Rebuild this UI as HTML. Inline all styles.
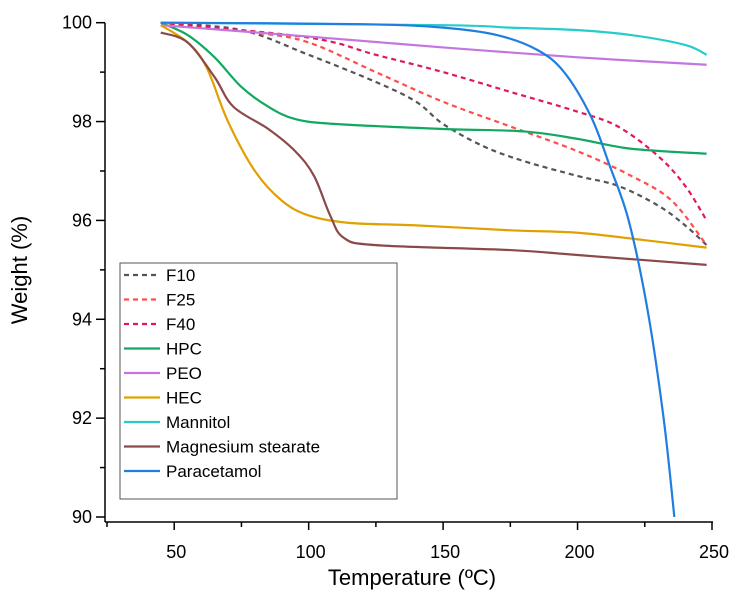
<!DOCTYPE html>
<html><head><meta charset="utf-8"><style>
body{margin:0;background:#fff}
svg text{font-family:"Liberation Sans",Arial,sans-serif}
</style></head><body>
<svg id="c" width="738" height="599"></svg>
<script>
const seriesNames=["F10","F25","F40","HPC","PEO","HEC","Mannitol","Magnesium stearate","Paracetamol"];
const seriesColors=["#555555","#ff4d4d","#e0195a","#12a860","#c277e0","#e0a000","#26cccc","#8b4a4a","#1f7ee0"];
const seriesDash=[true,true,true,false,false,false,false,false,false];
const T_F10=[45,75,100,125,140,150,165,180,200,215,230,240,248];
const W_F10=[100,99.85,99.35,98.8,98.4,97.95,97.5,97.2,96.9,96.7,96.3,95.9,95.5];
const T_F25=[45,80,100,125,150,175,200,220,235,248];
const W_F25=[100,99.8,99.6,99.0,98.4,97.9,97.4,96.9,96.4,95.5];
const T_F40=[45,100,125,150,175,200,215,230,240,248];
const W_F40=[100,99.7,99.35,99.0,98.6,98.2,97.9,97.3,96.7,96.0];
const T_HPC=[45,55,65,75,85,95,110,150,180,200,220,248];
const W_HPC=[100,99.75,99.3,98.7,98.3,98.05,97.95,97.85,97.8,97.65,97.45,97.35];
const T_PEO=[45,100,150,200,248];
const W_PEO=[99.95,99.72,99.5,99.3,99.15];
const T_HEC=[45,55,62,70,80,90,100,115,140,175,200,225,248];
const W_HEC=[99.95,99.6,99.1,98.0,97.0,96.4,96.1,95.95,95.9,95.8,95.75,95.6,95.45];
const T_MAN=[45,150,175,200,220,240,248];
const W_MAN=[100,99.95,99.9,99.85,99.75,99.55,99.35];
const T_MG=[45,55,65,72,85,95,102,108,113,125,175,200,248];
const W_MG=[99.8,99.6,98.9,98.3,97.85,97.4,96.9,96.1,95.65,95.5,95.4,95.3,95.1];
const T_PAR=[45,120,150,170,185,195,205,212,219,226,232,236];
const W_PAR=[100,99.97,99.9,99.75,99.45,99.0,98.1,97.1,96.0,94.2,92.0,90];
const allT=[T_F10,T_F25,T_F40,T_HPC,T_PEO,T_HEC,T_MAN,T_MG,T_PAR];
const allW=[W_F10,W_F25,W_F40,W_HPC,W_PEO,W_HEC,W_MAN,W_MG,W_PAR];
const xTicks=[50,100,150,200,250];
const yTicks=[90,92,94,96,98,100];

const NS="http://www.w3.org/2000/svg";
const svg=document.getElementById('c');
const X0=107,X1=712,Y0=517,Y1=22.7;
const xs=v=>X0+(v-25)/(250-25)*(X1-X0);
const ys=v=>Y0-(v-90)/(100-90)*(Y0-Y1);
function mk(t,a,p){const e=document.createElementNS(NS,t);for(const k in a)e.setAttribute(k,a[k]);(p||svg).appendChild(e);return e;}
const defs=mk('defs',{});const cp=mk('clipPath',{id:'cp'},defs);mk('rect',{x:X0,y:0,width:X1-X0+10,height:Y0-0},cp);
let ax=mk('line',{x1:X0-2,y1:Y0+5,x2:X1+1,y2:Y0+5,stroke:'#000','stroke-width':1.5});

let ay=mk('line',{x1:X0-2,y1:Y1,x2:X0-2,y2:Y0+5,stroke:'#000','stroke-width':1.5});

for(let v=25;v<=250;v+=25){const x=xs(v);mk('line',{x1:x,y1:Y0+5,x2:x,y2:Y0+(v%50?10:13),stroke:'#000','stroke-width':1.5});}
xTicks.forEach(v=>{const t=mk('text',{x:xs(v)+2,y:Y0+41,'text-anchor':'middle','font-size':18});t.textContent=v;
});
for(let v=90;v<=100;v+=1){const y=ys(v);mk('line',{x1:X0-2,y1:y,x2:X0-(v%2?7:11),y2:y,stroke:'#000','stroke-width':1.5});}
yTicks.forEach(v=>{const t=mk('text',{x:X0-15,y:ys(v)+6,'text-anchor':'end','font-size':18});t.textContent=v;
});
let xt=mk('text',{x:412,y:585,'text-anchor':'middle','font-size':22});xt.textContent='Temperature (ºC)';

let yt=mk('text',{x:0,y:0,'text-anchor':'middle','font-size':22,transform:'translate(27,270) rotate(-90)'});yt.textContent='Weight (%)';

function path(T,W){const p=T.map((t,i)=>[xs(t),ys(W[i])]);let d='M'+p[0][0]+','+p[0][1];
for(let i=0;i<p.length-1;i++){const a=p[Math.max(0,i-1)],b=p[i],c=p[i+1],e=p[Math.min(p.length-1,i+2)];
d+=' C'+(b[0]+(c[0]-a[0])/6)+','+(b[1]+(c[1]-a[1])/6)+' '+(c[0]-(e[0]-b[0])/6)+','+(c[1]-(e[1]-b[1])/6)+' '+c[0]+','+c[1];}return d;}
const g=mk('g',{'clip-path':'url(#cp)'});
seriesNames.forEach((n,i)=>{const l=mk('path',{d:path(allT[i],allW[i]),fill:'none',stroke:seriesColors[i],'stroke-width':2.2,'stroke-dasharray':seriesDash[i]?'5,4':'none'},g);
});
const lg=mk('g',{});
mk('rect',{x:120,y:263,width:277,height:236,fill:'#fff',stroke:'#555','stroke-width':1},lg);
seriesNames.forEach((n,i)=>{const y=275+i*24.5;const e=mk('g',{},lg);

mk('line',{x1:124,y1:y,x2:160,y2:y,stroke:seriesColors[i],'stroke-width':2.2,'stroke-dasharray':seriesDash[i]?'5,4':'none'},e);
const t=mk('text',{x:166,y:y+6,'font-size':17},e);t.textContent=n;});
</script>
</body></html>
